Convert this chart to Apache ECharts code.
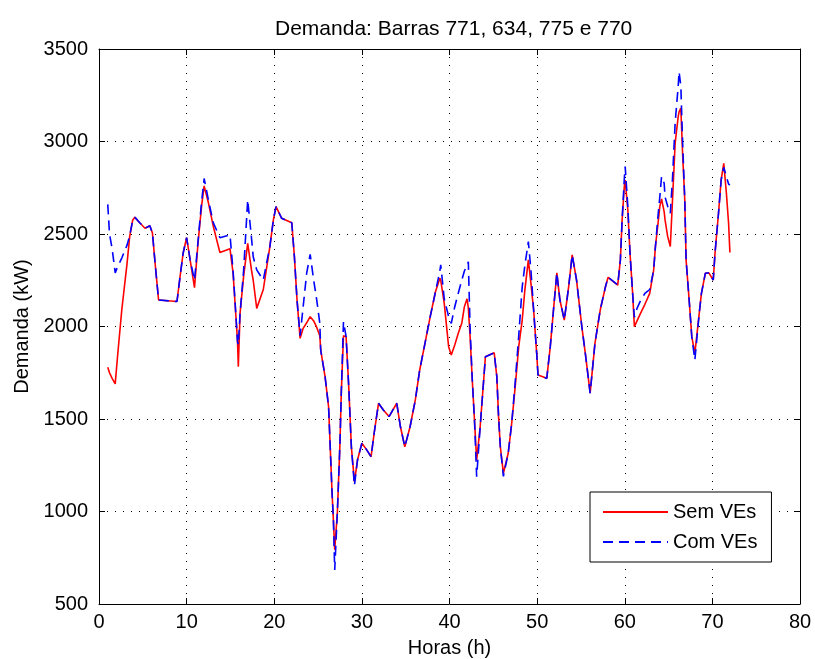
<!DOCTYPE html>
<html>
<head>
<meta charset="utf-8">
<script src="https://cdn.jsdelivr.net/npm/echarts@6/dist/echarts.min.js"></script>
<style>html,body{margin:0;padding:0;background:#fff;}#c{width:815px;height:659px;}</style>
</head>
<body>
<div id="c"></div>
<script>
var titleText = 'Demanda: Barras 771, 634, 775 e 770';
var xTicks = [0, 80, 10];
var yTicks = [500, 3500, 500];
var hours = [1.0,1.2,1.5,1.85,2.1,2.6,3.2,3.5,3.85,4.1,4.7,5.25,5.8,6.1,6.4,6.8,8.9,9.25,9.6,10.0,
10.4,10.9,11.3,11.7,12.0,12.5,13.05,13.8,14.95,15.3,15.6,15.8,15.9,16.1,16.5,16.97,17.4,17.6,18.0,18.75,
19.5,19.9,20.2,20.85,22.0,22.3,22.6,22.95,23.3,23.7,24.1,24.5,24.85,25.2,25.3,25.8,26.2,26.4,26.6,26.75,
26.9,27.2,27.5,27.65,27.9,28.2,28.5,28.8,29.15,29.5,30.0,30.55,31.05,31.4,31.9,32.45,33.1,33.98,34.4,34.9,
35.5,36.1,36.6,37.2,37.8,38.4,38.9,39.0,39.4,39.9,40.2,40.6,41.0,41.4,41.7,42.0,42.15,42.35,42.6,42.85,
43.1,43.5,43.9,44.1,45.1,45.4,45.6,45.8,46.15,46.7,47.1,47.5,47.9,48.3,48.6,49.0,49.3,49.6,49.95,50.1,
51.1,51.5,51.9,52.25,52.6,53.1,53.6,54.0,54.5,55.1,55.5,56.05,56.6,57.2,57.8,58.1,59.2,59.5,59.7,59.95,
60.05,60.35,60.6,60.9,61.1,61.4,61.8,62.3,62.85,63.3,63.5,63.8,64.0,64.2,64.5,64.6,64.9,65.2,65.45,65.75,
66.1,66.2,66.4,66.6,66.85,67.0,67.35,67.65,68.0,68.5,68.75,69.2,69.6,70.1,70.3,70.7,71.0,71.3,71.6,71.85,
72.0];
var semVEs = [1780,1750,1720,1690,1830,2090,2340,2486,2576,2590,2558,2531,2545,2505,2343,2143,2135,2269,2396,2480,
2360,2210,2450,2648,2760,2666,2540,2400,2420,2290,2072,1927,1783,2072,2270,2450,2306,2250,2098,2200,
2432,2576,2648,2585,2561,2377,2143,1936,1990,2020,2053,2030,1995,1950,1873,1729,1567,1333,1099,955,
793,992,1370,1640,1950,1945,1675,1350,1160,1278,1369,1333,1296,1423,1585,1549,1513,1585,1458,1350,
1458,1603,1765,1909,2053,2188,2261,2250,2125,1891,1846,1900,1963,2017,2107,2150,2100,1945,1711,1495,
1278,1458,1711,1837,1858,1729,1513,1350,1207,1315,1477,1675,1891,2035,2197,2360,2230,2089,1855,1738,
1720,1891,2107,2290,2143,2035,2215,2387,2251,2000,1855,1640,1909,2089,2215,2266,2224,2360,2576,2756,
2792,2630,2396,2179,1999,2030,2071,2120,2179,2305,2432,2558,2648,2690,2620,2576,2486,2432,2684,2990,
3134,3160,3180,2936,2684,2360,2143,1945,1855,2071,2179,2288,2290,2251,2396,2612,2792,2882,2720,2558,
2400];
var comVEs = [2660,2500,2420,2290,2320,2370,2440,2490,2576,2590,2558,2531,2545,2505,2343,2143,2135,2269,2396,2480,
2360,2250,2460,2670,2800,2680,2560,2480,2495,2300,2080,1920,1900,2072,2300,2684,2480,2377,2306,2251,
2432,2576,2648,2585,2561,2377,2143,1950,2107,2288,2390,2251,2143,2017,1873,1729,1567,1333,1099,955,
684,992,1370,1640,2026,1945,1675,1350,1140,1278,1369,1333,1296,1423,1585,1549,1513,1585,1458,1350,
1458,1603,1765,1909,2053,2188,2300,2333,2150,2053,2017,2107,2180,2250,2300,2330,2350,1990,1711,1495,
1188,1458,1711,1837,1858,1729,1513,1350,1190,1315,1477,1700,1950,2215,2330,2459,2300,2089,1855,1738,
1720,1891,2107,2290,2143,2035,2215,2387,2251,2000,1855,1640,1909,2089,2215,2266,2224,2360,2576,2800,
2864,2650,2396,2179,2050,2098,2140,2179,2200,2305,2432,2600,2700,2810,2774,2700,2650,2612,2800,3100,
3300,3377,3300,3000,2684,2360,2143,1945,1819,2071,2179,2288,2290,2251,2396,2612,2792,2860,2810,2770,
2765];

function pairs(xs, ys) { return xs.map(function (x, i) { return [x, ys[i]]; }); }

var FONT = '"Liberation Sans", Arial, sans-serif';
var chart = echarts.init(document.getElementById('c'), null, {renderer: 'canvas'});
function plain(v) { return String(v); }
function xAx(pos, labels) {
  return {
    type: 'value', position: pos, min: xTicks[0], max: xTicks[1], interval: xTicks[2],
    axisLine: {show: true, onZero: false, lineStyle: {color: '#000', width: 1}},
    axisTick: {show: true, inside: true, length: 6, lineStyle: {color: '#000'}},
    axisLabel: {show: labels, color: '#000', fontSize: 20, fontFamily: FONT, margin: 8, formatter: plain},
    splitLine: {show: labels, lineStyle: {color: '#000', type: [1, 7], width: 1}},
    name: labels ? 'Horas (h)' : '', nameLocation: 'middle', nameGap: 34,
    nameTextStyle: {color: '#000', fontSize: 20, fontFamily: FONT}
  };
}
function yAx(pos, labels) {
  return {
    type: 'value', position: pos, min: yTicks[0], max: yTicks[1], interval: yTicks[2],
    axisLine: {show: true, onZero: false, lineStyle: {color: '#000', width: 1}},
    axisTick: {show: true, inside: true, length: 6, lineStyle: {color: '#000'}},
    axisLabel: {show: labels, color: '#000', fontSize: 20, fontFamily: FONT, margin: 11, formatter: plain},
    splitLine: {show: labels, lineStyle: {color: '#000', type: [1, 7], width: 1}},
    name: labels ? 'Demanda (kW)' : '', nameLocation: 'middle', nameGap: 64, nameRotate: 90,
    nameTextStyle: {color: '#000', fontSize: 20, fontFamily: FONT}
  };
}
chart.setOption({
  animation: false,
  backgroundColor: '#fff',
  title: {text: titleText, left: 270, top: 14,
    textStyle: {color: '#000', fontSize: 21, fontWeight: 'normal', fontFamily: FONT}},
  grid: {left: 99, right: 15, top: 49, bottom: 55, containLabel: false, outerBoundsMode: 'none'},
  xAxis: [xAx('bottom', true), xAx('top', false)],
  yAxis: [yAx('left', true), yAx('right', false)],
  legend: {
    orient: 'vertical', left: 590, top: 492,
    padding: [10, 14, 10, 12], itemGap: 10, itemWidth: 65, itemHeight: 14,
    backgroundColor: '#fff', borderColor: '#000', borderWidth: 1, borderRadius: 0,
    itemStyle: {opacity: 0},
    textStyle: {color: '#000', fontSize: 20, fontFamily: FONT},
    data: ['Sem VEs', 'Com VEs']
  },
  series: [
    {name: 'Sem VEs', type: 'line', data: pairs(hours, semVEs), showSymbol: false, symbol: 'none',
      lineStyle: {color: '#ff0000', width: 1.6}, itemStyle: {color: '#ff0000'}, z: 2},
    {name: 'Com VEs', type: 'line', data: pairs(hours, comVEs), showSymbol: false, symbol: 'none',
      lineStyle: {color: '#0000ff', width: 1.6, type: [10, 6]}, itemStyle: {color: '#0000ff'}, z: 3}
  ]
});
</script>
</body>
</html>
